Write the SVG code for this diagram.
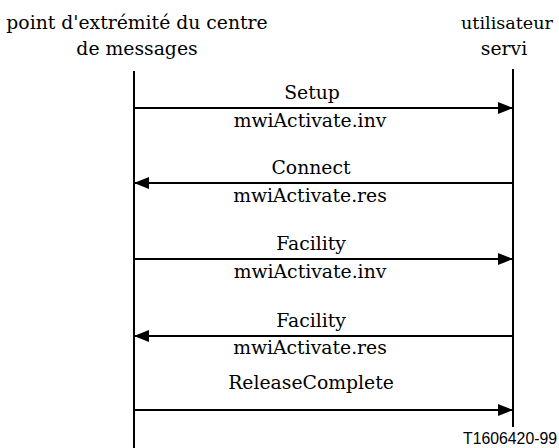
<svg xmlns="http://www.w3.org/2000/svg" width="559" height="448" viewBox="0 0 559 448">
<style>
.life{stroke:#000;stroke-width:2;fill:none}
.msg{stroke:#000;stroke-width:2;fill:none}
.t{font-family:"DejaVu Serif","Liberation Serif",serif;font-size:18.8px;fill:#000;text-anchor:middle}
.id{font-family:"Liberation Sans",Arial,sans-serif;font-size:15.8px;fill:#000;text-anchor:end}
</style>
<defs>
<marker id="ah" viewBox="0 0 15 12" refX="15" refY="6" markerWidth="15" markerHeight="12" markerUnits="userSpaceOnUse" orient="auto">
<path d="M0,0 L15,6 L0,12 Z" fill="#000"/>
</marker>
</defs>
<rect width="559" height="448" fill="#fff"/>
<g id="node-centre">
<text class="t" x="137" y="29">point d'extrémité du centre</text>
<text class="t" x="137" y="55">de messages</text>
<line class="life" x1="134" y1="71" x2="134" y2="448"/>
</g>
<g id="node-utilisateur">
<text class="t" x="507" y="29" style="font-size:17.5px" textLength="92" lengthAdjust="spacingAndGlyphs">utilisateur</text>
<text class="t" x="504" y="55">servi</text>
<line class="life" x1="513" y1="69" x2="513" y2="427"/>
</g>
<g id="connectors">
<line class="msg" x1="134" y1="108" x2="513" y2="108" marker-end="url(#ah)"/>
<text class="t" x="312" y="99">Setup</text>
<text class="t" x="310" y="127">mwiActivate.inv</text>
<line class="msg" x1="513" y1="183" x2="134" y2="183" marker-end="url(#ah)"/>
<text class="t" x="311" y="174">Connect</text>
<text class="t" x="310" y="202">mwiActivate.res</text>
<line class="msg" x1="134" y1="259" x2="513" y2="259" marker-end="url(#ah)"/>
<text class="t" x="311" y="250">Facility</text>
<text class="t" x="310" y="278">mwiActivate.inv</text>
<line class="msg" x1="513" y1="336" x2="134" y2="336" marker-end="url(#ah)"/>
<text class="t" x="311" y="327">Facility</text>
<text class="t" x="310" y="354">mwiActivate.res</text>
<line class="msg" x1="134" y1="410" x2="513" y2="410" marker-end="url(#ah)"/>
<text class="t" x="311" y="389">ReleaseComplete</text>
</g>
<text class="id" x="557" y="444">T1606420-99</text>
</svg>
